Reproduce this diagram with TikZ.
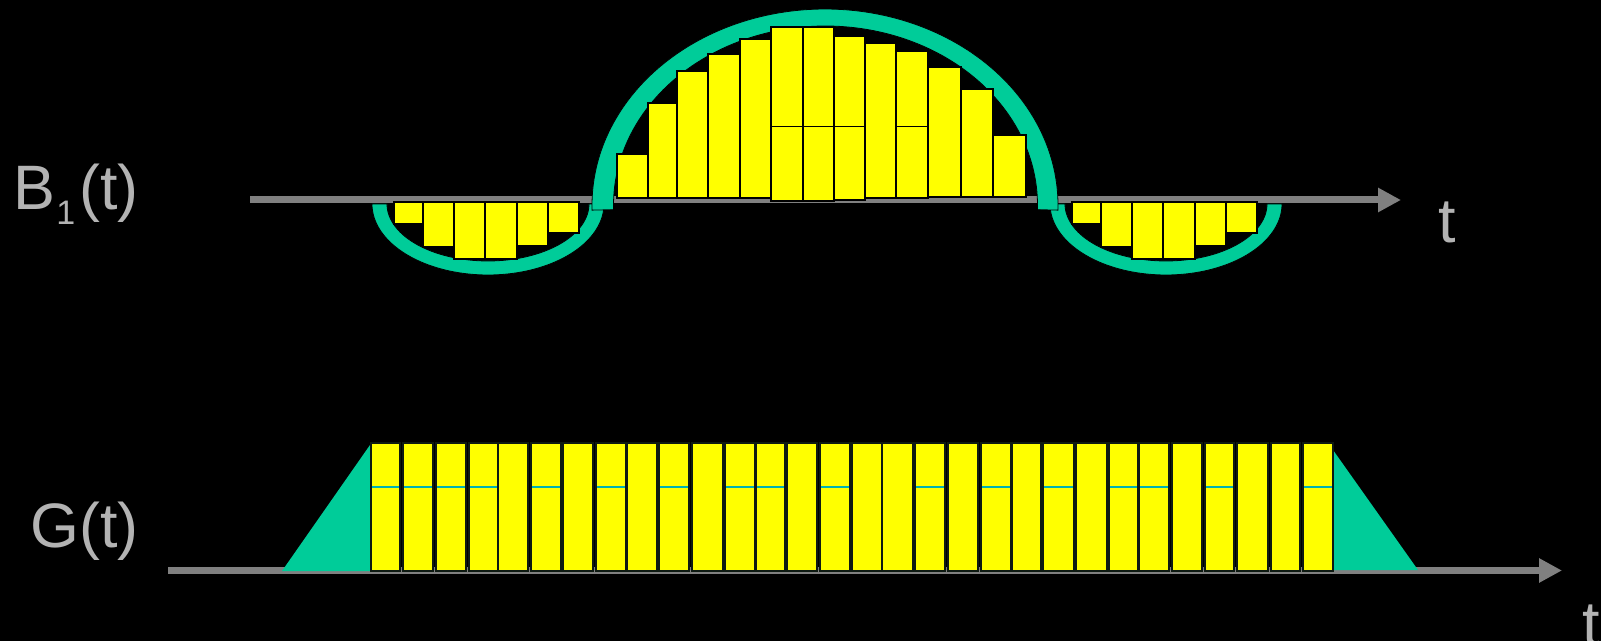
\documentclass[tikz,border=0pt]{standalone}
\usepackage{fontspec}
\setmainfont{Liberation Sans}
\usetikzlibrary{arrows.meta}
\definecolor{pgreen}{HTML}{00CC99}
\definecolor{axgray}{HTML}{808080}
\definecolor{lblgray}{HTML}{B3B3B3}
\definecolor{pyellow}{HTML}{FFFF00}
\definecolor{gline}{HTML}{0E1A12}
\definecolor{cyanline}{HTML}{00B3B3}
\begin{document}
\begin{tikzpicture}[x=0.5pt,y=-0.5pt,
  axisline/.style={draw=axgray,line width=3.5pt,-{Triangle[length=11.5pt,width=11.5pt]}},
  blockarc/.style={fill=pgreen,draw=black,line width=0.4pt},
  hbar/.style={fill=pyellow,draw=black,line width=1.25pt},
  gbar/.style={fill=pyellow,draw=gline,line width=1pt},
  midline/.style={draw=black,line width=0.5pt},
  cyline/.style={draw=cyanline,line width=0.6pt},
  ramp/.style={fill=pgreen},
  lbl/.style={text=lblgray,inner sep=0pt,font=\fontsize{31.4pt}{36pt}\selectfont}]
% background
\fill[black] (0,0) rectangle (1601,641);
\useasboundingbox (0,0) rectangle (1601,641);
% axes
\coordinate (ta0) at (250,200);
\coordinate (ta1) at (1401,200);
\coordinate (ba0) at (168,570.5);
\coordinate (ba1) at (1562,570.5);
\draw[axisline] (ta0) -- (ta1);
\draw[axisline] (ba0) -- (ba1);
% side lobes
\foreach \cx in {488,1166}{
  \filldraw[blockarc] plot[domain=180:360,samples=80] ({\cx+116*cos(\x)},{204-71*sin(\x)})
    -- plot[domain=360:180,samples=80] ({\cx+101*cos(\x)},{204-57*sin(\x)}) -- cycle;
}
% main lobe
\filldraw[blockarc] plot[domain=181.5:-1.5,samples=120] ({825+233*cos(\x)},{205-196*sin(\x)})
  -- plot[domain=-1.5:181.5,samples=120] ({825.5+212*cos(\x)},{205-179*sin(\x)}) -- cycle;
% side lobe bars
\foreach \off in {0,678}{
  \foreach \xl/\xr/\yb in {394/423/224,423/454/247,454/485/259,485/517/259,517/548/246,548/579/233}{
    \draw[hbar] (\xl+\off,202) rectangle (\xr+\off,\yb);
  }
}
% main lobe bars
\foreach \xl/\xr/\yt/\yb in {617/648/154/198,648/677/103/198,677/708/71/198,708/740/54/198,
  740/771/39/198,771/803/27/201,803/834/27/201,834/865/36/200,865/896/43/198,896/928/51/198,
  928/961/67/197,961/993/89/197,993/1026/135/197}{
  \draw[hbar] (\xl,\yt) rectangle (\xr,\yb);
}
\foreach \xl/\xr in {771/803,803/834,834/865,896/928}{
  \draw[midline] (\xl,127) -- (\xr,127);
}
% ramps
\fill[ramp] (282,571) -- (370,445) -- (370,571) -- cycle;
\fill[ramp] (1333,450) -- (1418,570) -- (1333,570) -- cycle;
% gradient bars
\foreach \xl/\xr in {372/399,404/432,437/465,470/497,499/527,532/560,564/592,597/625,628/656,660/688,
  693/722,726/754,757/784,788/816,821/849,853/881,883/912,916/944,949/977,982/1010,
  1013/1040,1044/1073,1077/1106,1110/1137,1140/1168,1173/1201,1206/1233,1238/1267,1272/1299,1304/1332}{
  \draw[gbar] (\xl-1,443) rectangle (\xr+1,571);
}
\foreach \xl/\xr in {372/399,404/432,437/465,470/497,532/560,597/625,660/688,726/754,757/784,
  821/849,916/944,982/1010,1044/1073,1110/1137,1140/1168,1206/1233,1304/1332}{
  \draw[cyline] (\xl,487) -- (\xr,487);
}
% labels
\node[lbl,anchor=base west] (lblB) at (13,210) {B\kern0.5pt\raisebox{-7.5pt}{\fontsize{17pt}{20pt}\selectfont 1}\kern2pt(t)};
\node[lbl,anchor=base west] (lblG) at (30,547) {G(t)};
\node[lbl,anchor=base west] (lblt1) at (1438,243) {t};
\node[lbl,anchor=base west] (lblt2) at (1582,645) {t};
\end{tikzpicture}
\end{document}
